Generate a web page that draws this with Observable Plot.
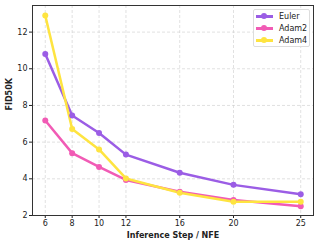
<!DOCTYPE html>
<html>
<head>
<meta charset="utf-8">
<script src="https://cdn.jsdelivr.net/npm/d3@7"></script>
<script src="https://cdn.jsdelivr.net/npm/@observablehq/plot@0.6"></script>
<style>
html,body{margin:0;padding:0;background:#fff;}
#wrap{position:relative;width:319px;height:245px;font-family:"DejaVu Sans",sans-serif;}
#legend{position:absolute;left:253px;top:9px;width:55px;height:36px;border:1px solid #ddd;border-radius:2px;background:rgba(255,255,255,0.9);font-size:8px;color:#222;}
.item{position:absolute;left:2px;height:10px;display:flex;align-items:center;}
.sw{position:relative;width:17px;height:10px;margin-right:6px;}
.sw .ln{position:absolute;left:0;top:4px;width:17px;height:2.5px;}
.sw .dt{position:absolute;left:5px;top:2px;width:6px;height:6px;border-radius:50%;}
</style>
</head>
<body>
<div id="wrap"><div id="chart"></div><div id="legend"></div></div>
<script>
const steps = [6, 8, 10, 12, 16, 20, 25];
const euler = [10.8, 7.45, 6.5, 5.32, 4.33, 3.67, 3.16];
const adam2 = [7.18, 5.40, 4.65, 3.94, 3.29, 2.85, 2.51];
const adam4 = [12.9, 6.72, 5.6, 4.02, 3.24, 2.75, 2.75];
const seriesNames = ["Euler", "Adam2", "Adam4"];
const colors = ["#9b5de5", "#f15bb5", "#fee440"];
const yTicks = [2, 4, 6, 8, 10, 12];

const all = [euler, adam2, adam4];
const data = [];
seriesNames.forEach((s, i) => steps.forEach((x, j) => data.push({series: s, x, y: all[i][j]})));

const plot = Plot.plot({
  width: 319, height: 245,
  marginLeft: 32, marginRight: 6, marginTop: 5, marginBottom: 30,
  style: {fontFamily: "DejaVu Sans, sans-serif", fontSize: "8px", color: "#222", background: "#fff"},
  x: {type: "linear", domain: [5.05, 25.95], ticks: steps, tickFormat: d => String(d), tickSize: 3, tickPadding: 2, label: null},
  y: {domain: [2, 13.45], ticks: yTicks, tickFormat: d => String(d), tickSize: 3, tickPadding: 2, label: null},
  color: {domain: seriesNames, range: colors},
  marks: [
    Plot.gridX(steps, {stroke: "#ccc", strokeOpacity: 1, strokeDasharray: "3,2", strokeWidth: 0.6}),
    Plot.gridY(yTicks, {stroke: "#ccc", strokeOpacity: 1, strokeDasharray: "3,2", strokeWidth: 0.6}),
    Plot.axisX({ticks: steps, tickSize: 3, tickPadding: 2, tickFormat: d => String(d), label: null}),
    Plot.axisY({ticks: yTicks, tickSize: 3, tickPadding: 2, tickFormat: d => String(d), label: null}),
    Plot.line(data, {x: "x", y: "y", z: "series", stroke: "series", strokeWidth: 2.5}),
    Plot.dot(data, {x: "x", y: "y", fill: "series", r: 3}),
    Plot.frame({stroke: "#333", strokeWidth: 1}),
    Plot.text(["Inference Step / NFE"], {frameAnchor: "bottom", dy: 22, fontWeight: "bold", fontSize: 8}),
    Plot.text(["FID50K"], {frameAnchor: "left", dx: -23, rotate: -90, fontWeight: "bold", fontSize: 8})
  ]
});
document.getElementById("chart").appendChild(plot);

const lg = document.getElementById("legend");
seriesNames.forEach((s, i) => {
  const it = document.createElement("div");
  it.className = "item";
  it.style.top = (1 + i * 12) + "px";
  it.innerHTML = `<div class="sw"><div class="ln" style="background:${colors[i]}"></div><div class="dt" style="background:${colors[i]}"></div></div><span>${s}</span>`;
  lg.appendChild(it);
});
</script>
</body>
</html>
